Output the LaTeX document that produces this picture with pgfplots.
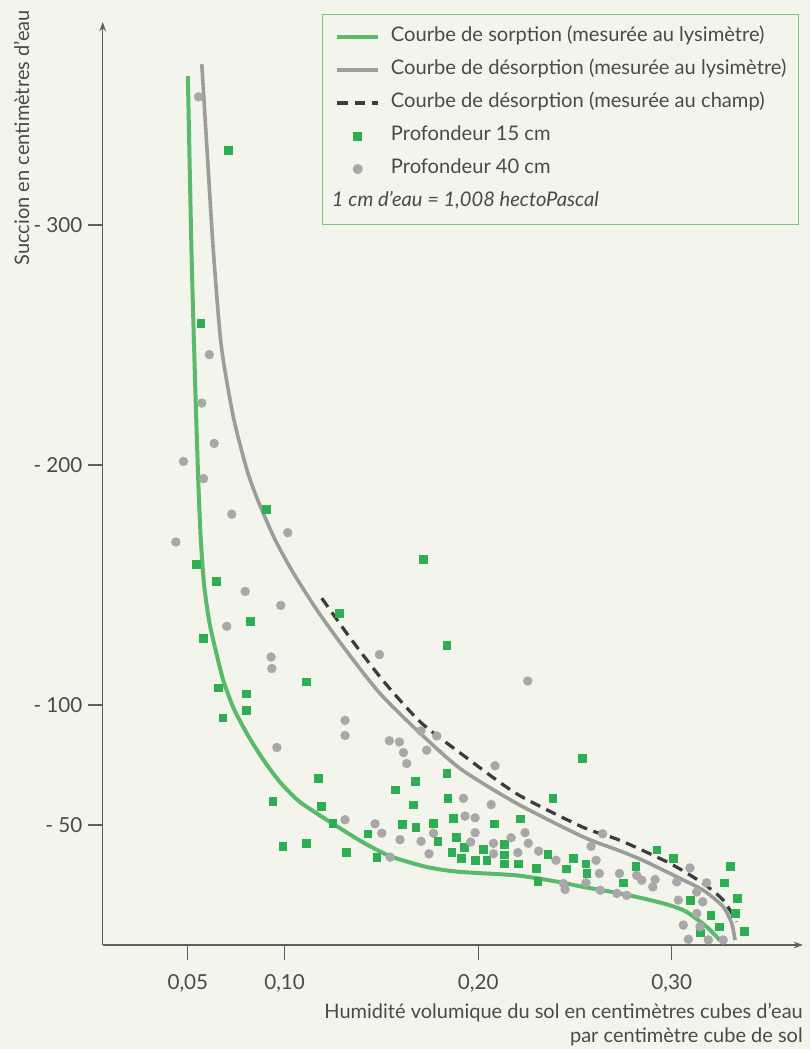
\documentclass[border=0pt]{standalone}
\usepackage{fontspec}
\setmainfont{Lato}
\usepackage{pgfplots}
\pgfplotsset{compat=1.18}
\usetikzlibrary{arrows.meta}
\definecolor{bg}{HTML}{F3F4EC}
\definecolor{txt}{HTML}{4A4A4A}
\definecolor{axisgray}{HTML}{5E5E5E}
\definecolor{cgreen}{HTML}{5BBA6A}
\definecolor{mgreen}{HTML}{2EAE52}
\definecolor{cgray}{HTML}{9C9C9C}
\definecolor{mgray}{HTML}{A8A8A8}
\definecolor{cdash}{HTML}{3C3C3C}
\definecolor{lgreen}{HTML}{7CC484}
\pgfplotsset{
  lineleg/.style={legend image code/.code={\path (0pt,0pt); \draw[##1] (4.75pt,0pt) -- (35.5pt,0pt);}},
  markleg/.style={legend image code/.code={\path (0pt,0pt); \path (35.5pt,0pt); \draw[##1] plot coordinates {(20.1pt,0pt)};}},
}
\begin{document}
\fontsize{15pt}{18pt}\selectfont
\begin{tikzpicture}[x=0.75pt,y=0.75pt]
\fill[bg] (0,0) rectangle (810,1049);
\begin{axis}[
  at={(77.025pt,78pt)}, anchor=south west, scale only axis,
  width=525.2pt, height=692.25pt,
  xmin=0.006, xmax=0.3678, ymin=0, ymax=384.6,
  axis x line=bottom, axis y line=left,
  axis line style={draw=axisgray, line width=1.1pt, -{Stealth[length=7pt,width=5pt]}},
  tick align=outside, major tick length=11pt,
  tick style={draw=axisgray, line width=0.9pt},
  xtick={0.05,0.1,0.2,0.3}, xticklabels={{0,05},{0,10},{0,20},{0,30}},
  ytick={50,100,200,300}, yticklabels={{- 50},{- 100},{- 200},{- 300}},
  ticklabel style={text=txt, font=\fontsize{15.5pt}{17pt}\selectfont},
  xticklabel style={yshift=-6pt},
  yticklabel style={xshift=1pt},
  legend cell align=left,
  legend style={at={(axis description cs:0.9943,1.0087)}, anchor=north east,
    draw=lgreen, line width=0.9pt, fill=bg, text=txt,
    font=\fontsize{15.1pt}{17pt}\selectfont,
    inner xsep=5pt, inner ysep=7.5pt, row sep=6pt, column sep=4pt,
    nodes={text height=11pt, text depth=3.75pt, inner xsep=4pt, inner ysep=2pt}},
  clip=false,
]
\addplot[cgreen, line width=3pt, smooth, tension=0.4, lineleg]
  coordinates {(0.0500,362)(0.0519,288)(0.0538,233)(0.0554,193)(0.0566,170)(0.0584,150)(0.0610,135)(0.0640,124)(0.0684,110)(0.0740,98)(0.0820,86)(0.0900,76)(0.0980,67.5)(0.1080,59.5)(0.1250,50.5)(0.1400,43)(0.1545,37)(0.1734,32.5)(0.1900,30.5)(0.2199,29)(0.2400,26.5)(0.2543,24.2)(0.2733,21.5)(0.2900,18.5)(0.3000,16.3)(0.3077,13.8)(0.3180,7.6)(0.3249,2)};
\addlegendentry{Courbe de sorption (mesurée au lysimètre)}
\addplot[cgray, line width=2.7pt, smooth, tension=0.4, lineleg]
  coordinates {(0.0572,367)(0.0600,330)(0.0631,290)(0.0672,250)(0.0735,220)(0.0805,198)(0.0863,185)(0.0950,169)(0.1045,155)(0.1180,138)(0.1338,120.5)(0.1496,104.5)(0.1690,89)(0.1907,73.5)(0.2199,59)(0.2543,45)(0.2733,39.2)(0.2850,35.3)(0.2991,29.8)(0.3163,22.8)(0.3266,15.9)(0.3310,9)(0.3327,2)};
\addlegendentry{Courbe de désorption (mesurée au lysimètre)}
\addplot[cdash, line width=2.4pt, dash pattern=on 8pt off 5pt, smooth, tension=0.4, lineleg]
  coordinates {(0.1192,144.5)(0.1338,128)(0.1510,110)(0.1700,93)(0.1907,80)(0.2199,63)(0.2543,49)(0.2733,43.6)(0.2991,34)(0.3163,25.6)(0.3266,18.7)(0.3336,9.7)};
\addlegendentry{Courbe de désorption (mesurée au champ)}
\addplot[only marks, mark=square*, mark size=2.9pt, draw=mgreen, fill=mgreen, markleg]
  coordinates {(0.0710,331)(0.0567,259)(0.0904,181.6)(0.1717,160.7)(0.0543,158.6)(0.0645,151.7)(0.1282,138.3)(0.0822,134.9)(0.0581,127.9)(0.1838,124.9)(0.1111,109.7)(0.0658,107.2)(0.0801,104.7)(0.0801,97.8)(0.0681,94.7)(0.2538,77.7)(0.1838,71.5)(0.1175,69.4)(0.1674,68.2)(0.157,64.7)(0.0939,59.9)(0.1188,57.8)(0.1665,58.4)(0.1843,61.1)(0.2385,61.1)(0.1872,52.8)(0.1249,50.7)(0.143,46.3)(0.1609,50.2)(0.1677,49.1)(0.1769,50.7)(0.1791,43.2)(0.1886,44.9)(0.0991,41.1)(0.1111,42.4)(0.1317,38.7)(0.1476,36.6)(0.1863,38.7)(0.2216,52.6)(0.2083,50.5)(0.2135,41.9)(0.1927,40.8)(0.2027,39.8)(0.2135,37.6)(0.2359,37.8)(0.1911,36)(0.1984,35.3)(0.2044,35.3)(0.2135,33.9)(0.2208,33.9)(0.2299,32.1)(0.2454,31.8)(0.2492,36)(0.2556,33.9)(0.2561,29.8)(0.2750,25.9)(0.2308,26.6)(0.2922,39.7)(0.3008,36)(0.2814,32.8)(0.3301,32.8)(0.3271,25.9)(0.3339,19.4)(0.3094,18.7)(0.3202,12.4)(0.3330,13.1)(0.3246,7.6)(0.3373,5.8)(0.3146,5.1)};
\addlegendentry{Profondeur 15 cm}
\addplot[only marks, mark=*, mark size=3.3pt, draw=mgray, fill=mgray, markleg]
  coordinates {(0.0555,353.4)(0.0611,246)(0.0572,225.8)(0.0636,209)(0.0477,201.5)(0.0581,194.3)(0.0727,179.5)(0.1016,171.8)(0.0438,167.9)(0.0796,147.3)(0.098,141.5)(0.0701,132.8)(0.149,121)(0.093,120)(0.0934,115.2)(0.2256,110)(0.1312,93.6)(0.1312,87.3)(0.096,82.3)(0.1541,85.1)(0.1593,84.6)(0.1614,80.2)(0.1631,75.6)(0.1704,89.2)(0.1786,87.1)(0.1734,81.2)(0.2087,74.7)(0.1924,61.1)(0.2067,58.5)(0.1312,52.2)(0.1467,50.5)(0.1502,46.6)(0.1769,46.6)(0.1596,43.9)(0.1705,43.2)(0.1545,36.6)(0.1746,38)(0.1932,53.7)(0.1984,53)(0.2242,46.8)(0.1984,46.8)(0.2170,44.7)(0.1961,42.9)(0.2079,42.4)(0.2259,42.4)(0.2312,39.1)(0.2079,38)(0.2205,38.5)(0.2402,35.3)(0.2609,35.3)(0.2626,29.8)(0.2730,29.8)(0.2557,25.9)(0.2440,25.6)(0.2449,23.1)(0.2630,22.8)(0.2716,21.5)(0.2767,20.7)(0.2583,41.1)(0.2643,46.3)(0.3094,32.1)(0.2819,29)(0.2914,27.3)(0.2845,27)(0.3026,26.3)(0.318,25.9)(0.2902,24.2)(0.3129,22.1)(0.3034,18.7)(0.316,18)(0.3129,13.1)(0.306,8.3)(0.3146,7.6)(0.3086,2.4)(0.3189,2.1)(0.3266,2.1)};
\addlegendentry{Profondeur 40 cm}
\addlegendimage{empty legend}
\addlegendentry{\hspace*{-44.25pt}\itshape 1 cm d’eau = 1,008 hectoPascal}
\end{axis}
\node[rotate=90, anchor=base east, text=txt, inner sep=0pt] at (29,1039) {Succion en centimètres d’eau};
\node[anchor=base east, text=txt, inner sep=0pt] at (803,31) {Humidité volumique du sol en centimètres cubes d’eau};
\node[anchor=base east, text=txt, inner sep=0pt] at (803,7) {par centimètre cube de sol};
\pgfresetboundingbox
\path[use as bounding box] (0,0) rectangle (810,1049);
\end{tikzpicture}
\end{document}
